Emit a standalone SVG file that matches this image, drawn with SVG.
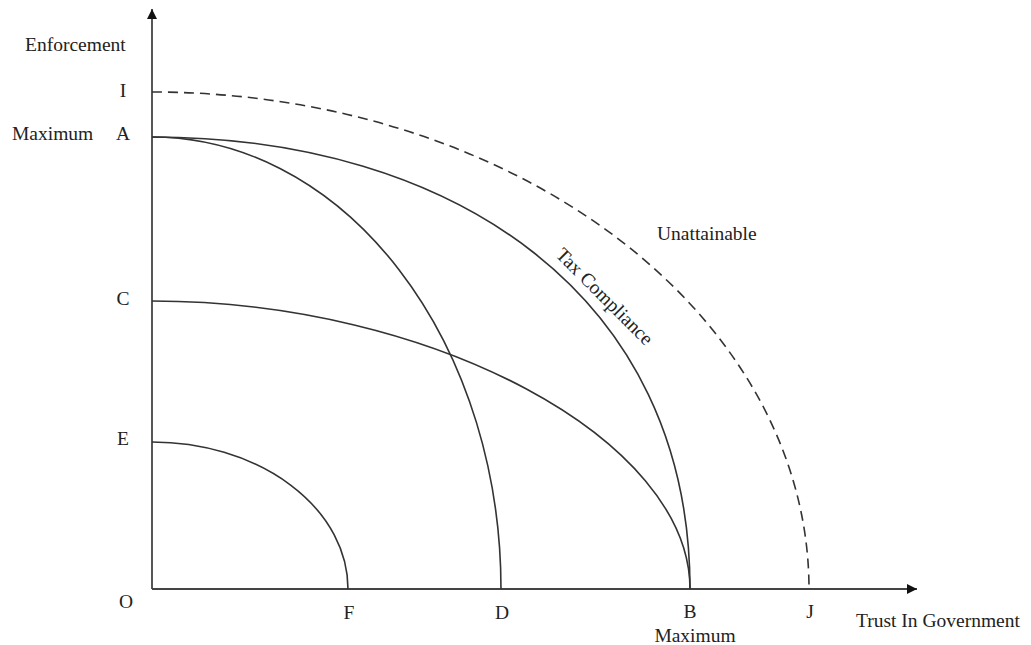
<svg xmlns="http://www.w3.org/2000/svg" width="1031" height="645" viewBox="0 0 1031 645">
<defs>
<style>
text{font-family:"Liberation Serif","Times New Roman",serif;font-size:19.5px;fill:#222}
.c{fill:none;stroke:#333;stroke-width:1.6}
.ax{fill:none;stroke:#444;stroke-width:1.8}
.d{stroke-dasharray:10 6}
</style>
<marker id="ar" viewBox="0 0 10 10" refX="10" refY="5" markerWidth="10" markerHeight="10" markerUnits="userSpaceOnUse" orient="auto">
<path d="M0,0 L10,5 L0,10 Z" fill="#111"/>
</marker>
</defs>
<rect width="1031" height="645" fill="#fff"/>
<g id="connectors">
<path id="axis-y" class="ax" d="M152,589 L152,9" marker-end="url(#ar)"/>
<path id="axis-x" class="ax" d="M152,589 L917,589" marker-end="url(#ar)"/>
<path id="curve-AB" class="c" d="M152,137 C453,137 690,295 690,589"/>
<path id="curve-AD" class="c" d="M152,137 A349 452 0 0 1 501 589"/>
<path id="curve-CB" class="c" d="M152,301 C432,301 690,439 690,589"/>
<path id="curve-EF" class="c" d="M152,442 A196 147 0 0 1 348 589"/>
<path id="curve-IJ" class="c d" d="M152,92 A657 497 0 0 1 809 589"/>
</g>
<g id="labels">
<text x="25" y="51">Enforcement</text>
<text x="123" y="97" text-anchor="middle">I</text>
<text x="12" y="140">Maximum</text>
<text x="123" y="140" text-anchor="middle">A</text>
<text x="123" y="305" text-anchor="middle">C</text>
<text x="123" y="445" text-anchor="middle">E</text>
<text x="126" y="608" text-anchor="middle">O</text>
<text x="349" y="619" text-anchor="middle">F</text>
<text x="502" y="619" text-anchor="middle">D</text>
<text x="690" y="618" text-anchor="middle">B</text>
<text x="695" y="642" text-anchor="middle">Maximum</text>
<text x="810" y="618" text-anchor="middle">J</text>
<text x="856" y="627">Trust In Government</text>
<text x="657" y="240">Unattainable</text>
<text x="600" y="301" text-anchor="middle" transform="rotate(45 600 301)">Tax Compliance</text>
</g>
</svg>
